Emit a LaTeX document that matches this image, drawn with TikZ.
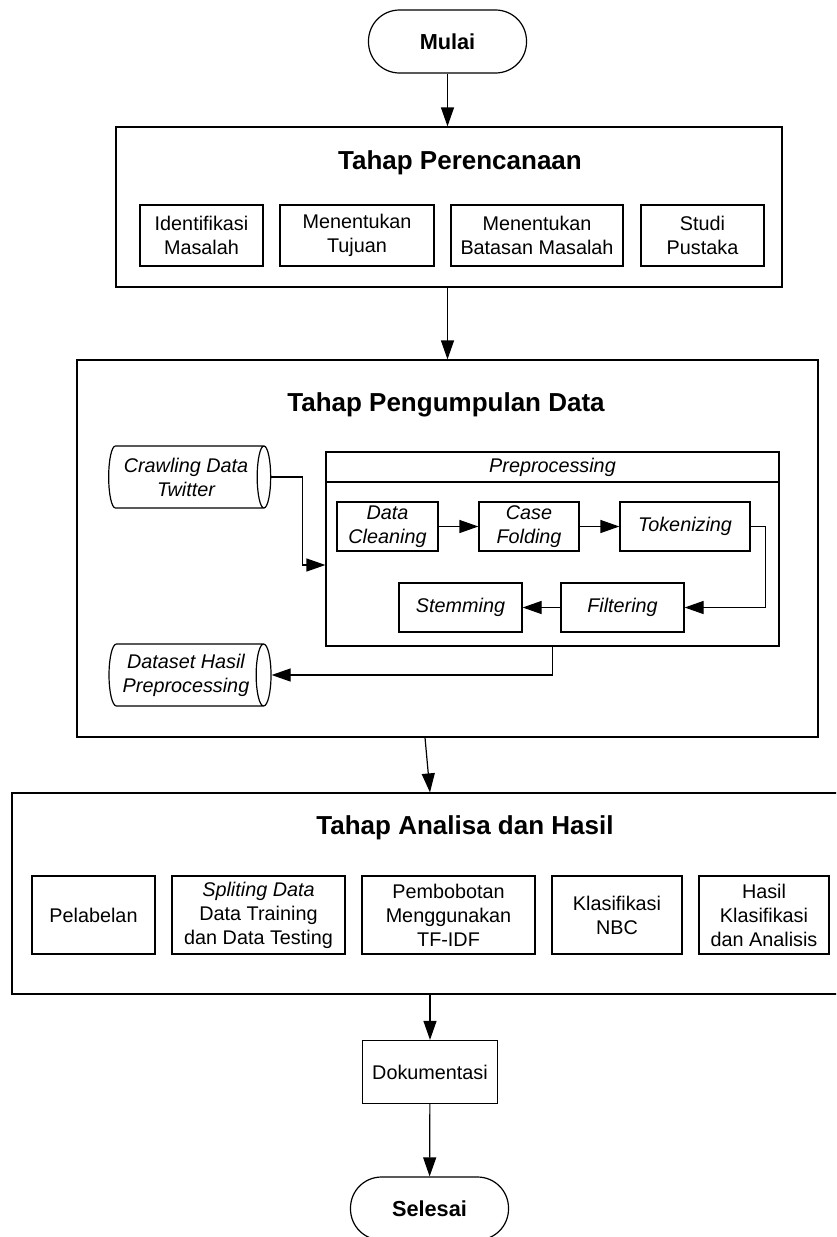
\documentclass[tikz,border=0pt]{standalone}
\usepackage{fontspec}
\setmainfont{Liberation Sans}
\usetikzlibrary{arrows.meta,shapes.geometric}

\begin{document}
\begin{tikzpicture}[x=1pt,y=-1pt,
  every node/.style={font=\fontsize{19.8}{24}\selectfont},
  box/.style={draw,line width=1.2pt,align=center,inner sep=0pt},
  frame/.style={draw,line width=1.2pt,inner sep=0pt},
  term/.style={draw,line width=1.2pt,rounded corners=31pt,minimum width=158pt,
    minimum height=63pt,font=\fontsize{21.7}{26}\selectfont\bfseries},
  store/.style={draw,line width=1.2pt,shape=cylinder,shape aspect=.35,
    minimum width=62pt,minimum height=162pt,align=center,inner sep=0pt,
    font=\fontsize{19.8}{24}\selectfont\itshape},
  title/.style={font=\fontsize{26}{30}\selectfont\bfseries},
  arr/.style={line width=1.2pt,-{Triangle[length=19pt,width=13pt]}}]
   \clip (0,0) rectangle (836,1237);
   % start
   \node[term] (mulai) at (447.5,41.5) {Mulai};
   % Tahap Perencanaan
   \node[frame,minimum width=666pt,minimum height=160pt] (plan) at (449,207) {};
   \node[title] (tplan) at (460,163) {Tahap Perencanaan};
   \node[box,minimum width=123pt,minimum height=61pt] (idm) at (201.5,235.5) {Identifikasi\\Masalah};
   \node[box,minimum width=154pt,minimum height=61pt] (tuj) at (357,235.5) {Menentukan\\Tujuan};
   \node[box,minimum width=172pt,minimum height=61pt] (bts) at (537,235.5) {Menentukan\\Batasan Masalah};
   \node[box,minimum width=123pt,minimum height=61pt] (stp) at (702.5,235.5) {Studi\\Pustaka};
   % Tahap Pengumpulan Data
   \node[frame,minimum width=741pt,minimum height=377pt] (data) at (447.5,548.5) {};
   \node[title] (tdata) at (446,405) {Tahap Pengumpulan Data};
   \node[store] (crawl) at (186,477) {Crawling Data\\Twitter};
   \node[store] (dset) at (186,675) {Dataset Hasil\\Preprocessing};
   \node[frame,minimum width=453pt,minimum height=194pt] (prep) at (552.5,549) {};
   \node[frame,minimum width=453pt,minimum height=30pt,font=\fontsize{19.8}{24}\selectfont\itshape] (prephead) at (552.5,467) {Preprocessing};
   \node[box,minimum width=101pt,minimum height=49pt,font=\fontsize{19.8}{24}\selectfont\itshape] (dc) at (387.5,526.5) {Data\\Cleaning};
   \node[box,minimum width=100pt,minimum height=49pt,font=\fontsize{19.8}{24}\selectfont\itshape] (cf) at (529,526.5) {Case\\Folding};
   \node[box,minimum width=130pt,minimum height=49pt,font=\fontsize{19.8}{24}\selectfont\itshape] (tok) at (685,526.5) {Tokenizing};
   \node[box,minimum width=123pt,minimum height=49pt,font=\fontsize{19.8}{24}\selectfont\itshape] (fil) at (622.5,607.5) {Filtering};
   \node[box,minimum width=123pt,minimum height=49pt,font=\fontsize{19.8}{24}\selectfont\itshape] (stm) at (460.5,607.5) {Stemming};
   \draw[arr] (crawl.east) -- ++(31,0) |- ([yshift=-16pt]prep.west);
   \draw[arr] (dc) -- (cf);
   \draw[arr] (cf) -- (tok);
   \draw[arr] (tok.east) -- ++(15,0) |- (fil.east);
   \draw[arr] (fil) -- (stm);
   \draw[arr] (prep.south) |- (dset.east);
   % Tahap Analisa dan Hasil
   \node[frame,minimum width=836pt,minimum height=201pt] (anal) at (430,893.5) {};
   \node[title] (tanal) at (465,828) {Tahap Analisa dan Hasil};
   \node[box,minimum width=123pt,minimum height=78pt] (pel) at (93.5,915) {Pelabelan};
   \node[box,minimum width=173pt,minimum height=78pt] (spl) at (258.5,915) {\textit{Spliting Data}\\Data Training\\dan Data Testing};
   \node[box,minimum width=173pt,minimum height=78pt] (bob) at (448.5,915) {Pembobotan\\Menggunakan\\TF-IDF};
   \node[box,minimum width=130pt,minimum height=78pt] (nbc) at (617,915) {Klasifikasi\\NBC};
   \node[box,minimum width=130pt,minimum height=78pt] (has) at (764,915) {Hasil\\Klasifikasi\\dan Analisis};
   % end
   \node[box,minimum width=135pt,minimum height=63pt] (dok) at (430,1072) {Dokumentasi};
   \node[term] (selesai) at (429.5,1208.5) {Selesai};
   \draw[arr] (mulai) -- (mulai |- plan.north);
   \draw[arr] (mulai |- plan.south) -- (mulai |- data.north);
   \draw[arr] ([xshift=-22.5pt]data.south) -- (anal.north);
   \draw[arr] (anal.south) -- (dok);
   \draw[arr] (dok) -- (selesai);
  \end{tikzpicture}
\end{document}
